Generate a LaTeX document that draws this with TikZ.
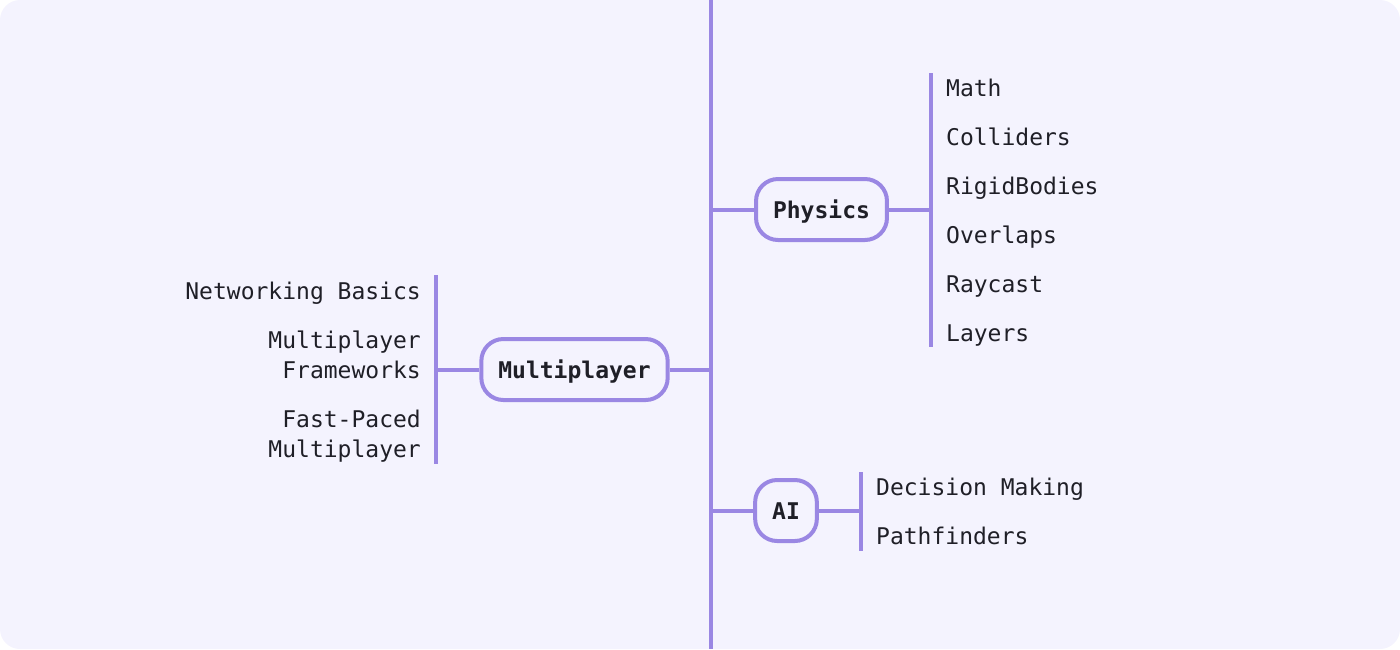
\documentclass[tikz,border=0pt]{standalone}
\usepackage{fontspec}
\setmonofont{DejaVu Sans Mono}
\usetikzlibrary{calc,positioning}
\definecolor{bgpaper}{HTML}{F4F3FE}
\definecolor{branch}{HTML}{9A87E3}
\definecolor{ink}{HTML}{1F1F27}
\tikzset{
	topic/.style={draw=branch, fill=bgpaper, line width=4pt, rounded corners=22pt,
		minimum height=61pt, inner xsep=17pt, inner ysep=0pt, text height=17pt, text depth=0pt,
		font=\ttfamily\bfseries\fontsize{23}{30}\selectfont, text=ink},
	leaf/.style={inner sep=0pt, font=\ttfamily\fontsize{23}{30}\selectfont, text=ink},
	limb/.style={draw=branch, line width=4pt}
}
\begin{document}
\begin{tikzpicture}[x=1pt, y=-1pt]
			%%%%% START %%%%%
			
			\useasboundingbox (0, 0) rectangle (1400, 649);
			\fill[bgpaper, rounded corners=20pt] (0, 0) rectangle (1400, 649);
			
			\coordinate (spinetop) at (711, 0);
			\coordinate (spinebot) at (711, 649);
			\draw[limb] (spinetop) -- (spinebot);
			
			\node[topic] (multi) at (574.5, 369.5) {Multiplayer};
			\node[topic] (phys) at (821.5, 209.5) {Physics};
			\node[topic] (ai) at (786, 510.5) {AI};
			
			\coordinate (multibar1) at (436, 275);
			\coordinate (multibar2) at (436, 464);
			\coordinate (physbar1) at (931, 73);
			\coordinate (physbar2) at (931, 347);
			\coordinate (aibar1) at (861, 472);
			\coordinate (aibar2) at (861, 551);
			
			\draw[limb] (multibar1) -- (multibar2);
			\draw[limb] (physbar1) -- (physbar2);
			\draw[limb] (aibar1) -- (aibar2);
			
			\draw[limb] (multi.east) -- (multi.east -| spinetop);
			\draw[limb] (multi.west) -- (multi.west -| multibar1);
			\draw[limb] (phys.west) -- (phys.west -| spinetop);
			\draw[limb] (phys.east) -- (phys.east -| physbar1);
			\draw[limb] (ai.west) -- (ai.west -| spinetop);
			\draw[limb] (ai.east) -- (ai.east -| aibar1);
			
			% base of a two-line leaf is its last line
			\node[leaf, anchor=base east] (netbasics) at (421, 299) {Networking Basics};
			\node[leaf, anchor=base east, align=right] (frameworks) at (421, 378) {Multiplayer\\Frameworks};
			\node[leaf, anchor=base east, align=right] (fastpaced) at (421, 457) {Fast-Paced\\Multiplayer};
			
			\node[leaf, anchor=base west] (math) at (946, 96) {Math};
			\node[leaf, anchor=base west] (colliders) at (946, 145) {Colliders};
			\node[leaf, anchor=base west] (rigid) at (946, 194) {RigidBodies};
			\node[leaf, anchor=base west] (overlaps) at (946, 243) {Overlaps};
			\node[leaf, anchor=base west] (raycast) at (946, 292) {Raycast};
			\node[leaf, anchor=base west] (layers) at (946, 341) {Layers};
			
			\node[leaf, anchor=base west] (decision) at (876, 495) {Decision Making};
			\node[leaf, anchor=base west] (pathfind) at (876, 544) {Pathfinders};
			
			%%%%% END %%%%%
\end{tikzpicture}
\end{document}
